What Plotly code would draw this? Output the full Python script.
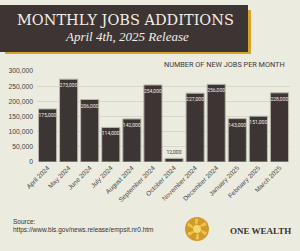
import plotly.graph_objects as go
import math

months = ["April 2024", "May 2024", "June 2024", "July 2024", "August 2024", "September 2024",
          "October 2024", "November 2024", "December 2024", "January 2025", "February 2025", "March 2025"]
jobs = [175000, 273000, 206000, 114000, 142000, 254000, 12000, 227000, 256000, 143000, 151000, 228000]
y_ticks = [0, 50000, 100000, 150000, 200000, 250000, 300000]
y_tick_labels = ["0", "50,000", "100,000", "150,000", "200,000", "250,000", "300,000"]

W, H = 300, 251
ML, MR, MT, MB = 37, 10, 71, 89
PW, PH = W - ML - MR, H - MT - MB

def px(x):
    return (x - ML) / PW

def py(y):
    return (H - MB - y) / PH

BG = "#ecebdf"
DARK = "#3d3533"
GOLD = "#d4a52a"

positions = ["outside" if v < 40000 else "inside" for v in jobs]
colors = ["#3d3533" if p == "outside" else "#f0ede6" for p in positions]

fig = go.Figure(go.Bar(
    x=months, y=jobs,
    marker=dict(color=DARK, line=dict(color="#b9b6ae", width=1)),
    text=[f"{v:,}" for v in jobs],
    textposition=positions,
    insidetextanchor="end",
    textangle=0,
    textfont=dict(size=5, color=colors, family="Roboto"),
    constraintext="none",
    cliponaxis=False,
))

shapes = [
    dict(type="rect", xref="paper", yref="paper", x0=px(5), x1=px(251), y0=py(54), y1=py(10),
         fillcolor=GOLD, line=dict(width=0), layer="above"),
    dict(type="rect", xref="paper", yref="paper", x0=px(0), x1=px(248), y0=py(52), y1=py(5),
         fillcolor=DARK, line=dict(width=0), layer="above"),
]

# logo
cx, cy, r = 197, 229, 12
shapes.append(dict(type="circle", xref="paper", yref="paper", x0=px(cx - r), x1=px(cx + r),
                   y0=py(cy + r), y1=py(cy - r), fillcolor="#d39a2a", line=dict(width=0)))
for k in range(6):
    a0 = math.radians(k * 60)
    a1 = math.radians(k * 60 + 40)
    pts = [(cx + 4 * math.cos(a0), cy + 4 * math.sin(a0)),
           (cx + 11 * math.cos(a0 + 0.3), cy + 11 * math.sin(a0 + 0.3)),
           (cx + 11 * math.cos(a1), cy + 11 * math.sin(a1)),
           (cx + 5 * math.cos(a1), cy + 5 * math.sin(a1))]
    path = "M " + " L ".join(f"{px(x):.4f},{py(y):.4f}" for x, y in pts) + " Z"
    shapes.append(dict(type="path", xref="paper", yref="paper", path=path,
                       fillcolor="#f0c250", line=dict(color="#b98a20", width=0.5)))
shapes.append(dict(type="circle", xref="paper", yref="paper", x0=px(cx - 4), x1=px(cx + 4),
                   y0=py(cy + 4), y1=py(cy - 4), fillcolor="#f7d76a", line=dict(width=0)))

annotations = [
    dict(text="MONTHLY JOBS ADDITIONS", x=px(125), y=py(19.5), xref="paper", yref="paper",
         showarrow=False, font=dict(family="DejaVu Serif", size=14.5, color="#f2efe8"),
         xanchor="center", yanchor="middle"),
    dict(text="<i>April 4th, 2025 Release</i>", x=px(127), y=py(36.5), xref="paper", yref="paper",
         showarrow=False, font=dict(family="Liberation Serif", size=13, color="#f2efe8"),
         xanchor="center", yanchor="middle"),
    dict(text="NUMBER OF NEW JOBS PER MONTH", x=px(224), y=py(64), xref="paper", yref="paper",
         showarrow=False, font=dict(family="Roboto", size=7.3, color="#3a3a3a"),
         xanchor="center", yanchor="middle"),
    dict(text="Source:<br>https://www.bls.gov/news.release/empsit.nr0.htm", x=px(11), y=py(226),
         xref="paper", yref="paper", showarrow=False, align="left",
         font=dict(family="Liberation Sans", size=6.5, color="#333333"),
         xanchor="left", yanchor="middle"),
    dict(text="<b>ONE WEALTH</b>", x=px(228), y=py(231), xref="paper", yref="paper",
         showarrow=False, font=dict(family="Liberation Serif", size=9, color="#3a3432"),
         xanchor="left", yanchor="middle"),
]

fig.update_layout(
    width=W, height=H,
    margin=dict(l=ML, r=MR, t=MT, b=MB, autoexpand=False),
    paper_bgcolor=BG, plot_bgcolor=BG,
    bargap=0.14,
    showlegend=False,
    shapes=shapes,
    annotations=annotations,
    xaxis=dict(tickangle=-45, tickfont=dict(family="Liberation Sans", size=6.5, color="#444444"),
               showgrid=False, showline=False, ticks="", range=[-0.5, 11.5], automargin=False),
    yaxis=dict(range=[0, 300000], tickvals=y_ticks, ticktext=y_tick_labels,
               tickfont=dict(family="Liberation Sans", size=6.8, color="#444444"),
               gridcolor="#d9d7c9", gridwidth=1, zeroline=False, showline=False, automargin=False,
               ticklabelstandoff=3),
)

fig.write_html("out.html")
